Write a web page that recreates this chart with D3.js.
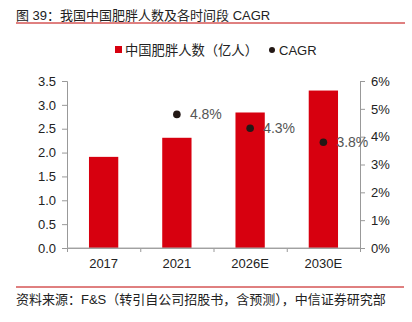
<!DOCTYPE html>
<html>
<head>
<meta charset="utf-8">
<script src="https://d3js.org/d3.v7.min.js"></script>
<style>
  body { margin: 0; background: #fff; }
  svg text { font-family: "Liberation Sans", Arial, "Noto Sans CJK SC", sans-serif; }
</style>
</head>
<body>
<svg width="412" height="322"></svg>
<script>
var years = ['2017', '2021', '2026E', '2030E'];
var people = [1.91, 2.31, 2.84, 3.30];          // 亿人
var cagrYears = ['2021', '2026E', '2030E'];
var cagr = [4.8, 4.3, 3.8];                     // %
var leftTicks = [0, 0.5, 1, 1.5, 2, 2.5, 3, 3.5];
var rightTicks = [0, 1, 2, 3, 4, 5, 6];

var svg = d3.select('svg');
var plotL = 67, plotR = 360, plotT = 81, plotB = 248;

var x = d3.scaleBand().domain(years).range([plotL, plotR]).paddingInner(0.6).paddingOuter(0.3);
var y = d3.scaleLinear().domain([0, 3.5]).range([plotB, plotT]);
var y2 = d3.scaleLinear().domain([0, 6]).range([plotB, plotT]);

// title + red rule
svg.append('text').attr('x', 16).attr('y', 20)
  .attr('font-size', 13).attr('fill', '#222')
  .text('图 39：我国中国肥胖人数及各时间段 CAGR');
svg.append('line').attr('x1', 16).attr('x2', 405).attr('y1', 23).attr('y2', 23)
  .attr('stroke', '#c00000').attr('stroke-width', 1);

// legend
svg.append('rect').attr('x', 115).attr('y', 46).attr('width', 7).attr('height', 7).attr('fill', '#d7000f');
svg.append('text').attr('x', 125).attr('y', 55).attr('font-size', 13.3).attr('fill', '#222')
  .text('中国肥胖人数（亿人）');
svg.append('circle').attr('cx', 272).attr('cy', 50).attr('r', 3).attr('fill', '#231815');
svg.append('text').attr('x', 279).attr('y', 55).attr('font-size', 13).attr('fill', '#222')
  .text('CAGR');

// axes
var axL = svg.append('g').attr('transform', 'translate(' + plotL + ',0)')
  .call(d3.axisLeft(y).tickValues(leftTicks).tickFormat(d3.format('.1f')).tickSize(5).tickPadding(6));
var axR = svg.append('g').attr('transform', 'translate(' + plotR + ',0)')
  .call(d3.axisRight(y2).tickValues(rightTicks).tickFormat(function(d) { return d + '%'; }).tickSize(5).tickPadding(6));
var xTicks = d3.scalePoint().domain(d3.range(5)).range([plotL, plotR]);
var axB = svg.append('g').attr('transform', 'translate(0,' + plotB + ')')
  .call(d3.axisBottom(xTicks).tickFormat('').tickSize(4).tickSizeOuter(0));
[axL, axR, axB].forEach(function(g) {
  g.selectAll('path').attr('stroke', '#999');
  g.selectAll('line').attr('stroke', '#999');
  g.selectAll('text').attr('font-size', 13).attr('fill', '#222')
    .attr('font-family', '"Liberation Sans", Arial, sans-serif');
});

// bars
svg.selectAll('.bar').data(years).enter().append('rect')
  .attr('x', function(d) { return x(d); })
  .attr('width', x.bandwidth())
  .attr('y', function(d, i) { return y(people[i]); })
  .attr('height', function(d, i) { return plotB - y(people[i]); })
  .attr('fill', '#d7000f');

// baseline drawn over the bars
svg.append('line').attr('x1', plotL).attr('x2', plotR).attr('y1', plotB).attr('y2', plotB)
  .attr('stroke', '#aaa');

// year labels
svg.selectAll('.yr').data(years).enter().append('text')
  .attr('x', function(d) { return x(d) + x.bandwidth() / 2; })
  .attr('y', 268).attr('text-anchor', 'middle')
  .attr('font-size', 13).attr('fill', '#222')
  .text(function(d) { return d; });

// CAGR points and labels
svg.selectAll('.dot').data(cagrYears).enter().append('circle')
  .attr('cx', function(d) { return x(d) + x.bandwidth() / 2; })
  .attr('cy', function(d, i) { return y2(cagr[i]); })
  .attr('r', 3.8).attr('fill', '#231815');
svg.selectAll('.lbl').data(cagrYears).enter().append('text')
  .attr('x', function(d) { return x(d) + x.bandwidth() / 2 + 13; })
  .attr('y', function(d, i) { return y2(cagr[i]) + 5; })
  .attr('font-size', 14).attr('fill', '#555')
  .text(function(d, i) { return cagr[i].toFixed(1) + '%'; });

// source line
svg.append('line').attr('x1', 16).attr('x2', 404).attr('y1', 287).attr('y2', 287)
  .attr('stroke', '#c00000').attr('stroke-width', 1);
svg.append('text').attr('x', 16).attr('y', 304).attr('font-size', 13).attr('fill', '#222')
  .text('资料来源：F&S（转引自公司招股书，含预测），中信证券研究部');
</script>
</body>
</html>
